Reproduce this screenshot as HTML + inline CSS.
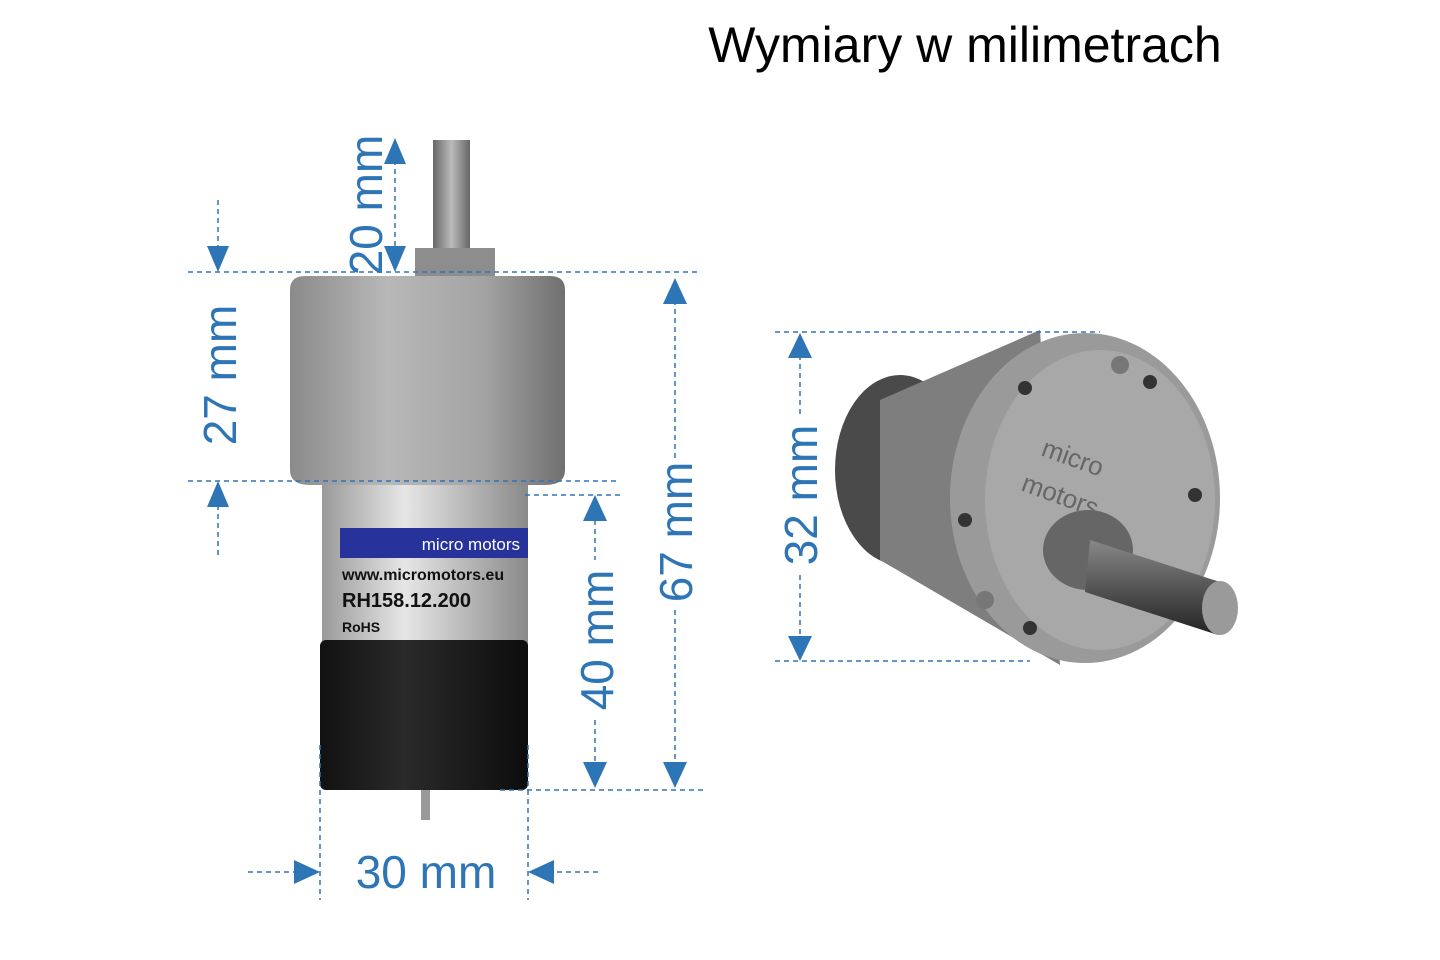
<!DOCTYPE html>
<html><head><meta charset="utf-8"><style>
html,body{margin:0;padding:0;background:#fff;}
svg{display:block}
text{font-family:"Liberation Sans",Arial,sans-serif;}
</style></head><body>
<svg width="1440" height="960" viewBox="0 0 1440 960" xmlns="http://www.w3.org/2000/svg">
<defs>
<linearGradient id="gb" x1="0" x2="1"><stop offset="0" stop-color="#8a8a8a"/><stop offset=".35" stop-color="#b8b8b8"/><stop offset=".7" stop-color="#a4a4a4"/><stop offset="1" stop-color="#707070"/></linearGradient>
<linearGradient id="mb" x1="0" x2="1"><stop offset="0" stop-color="#9a9a9a"/><stop offset=".4" stop-color="#e6e6e6"/><stop offset="1" stop-color="#8a8a8a"/></linearGradient>
<linearGradient id="bk" x1="0" x2="1"><stop offset="0" stop-color="#111"/><stop offset=".4" stop-color="#2a2a2a"/><stop offset="1" stop-color="#0d0d0d"/></linearGradient>
<linearGradient id="sh" x1="0" x2="1"><stop offset="0" stop-color="#666"/><stop offset=".5" stop-color="#bbb"/><stop offset="1" stop-color="#666"/></linearGradient>
<linearGradient id="sh2" x1="0" y1="0" x2="0" y2="1"><stop offset="0" stop-color="#888"/><stop offset=".5" stop-color="#555"/><stop offset="1" stop-color="#222"/></linearGradient>
</defs>
<text x="965" y="62" font-size="50" text-anchor="middle" fill="#000">Wymiary w milimetrach</text>

<!-- left motor -->
<rect x="433" y="140" width="37" height="112" fill="url(#sh)"/>
<rect x="415" y="248" width="80" height="28" fill="#8d8d8d"/>
<path d="M290 290 Q290 276 305 276 L550 276 Q565 276 565 290 L565 470 Q565 485 545 485 L310 485 Q290 485 290 470Z" fill="url(#gb)"/>
<rect x="322" y="485" width="206" height="160" fill="url(#mb)"/>
<rect x="340" y="528" width="188" height="30" fill="#27339a"/>
<text x="520" y="550" font-size="17" fill="#fff" text-anchor="end">micro motors</text>
<text x="342" y="580" font-size="16" font-weight="bold" fill="#111">www.micromotors.eu</text>
<text x="342" y="607" font-size="20" font-weight="bold" fill="#111">RH158.12.200</text>
<text x="342" y="632" font-size="14" font-weight="bold" fill="#111">RoHS</text>
<rect x="320" y="640" width="208" height="150" rx="6" fill="url(#bk)"/>
<rect x="421" y="790" width="9" height="30" fill="#999"/>

<!-- right motor -->
<ellipse cx="900" cy="470" rx="65" ry="95" fill="#4a4a4a"/>
<path d="M880 400 L1040 330 L1060 665 L880 560Z" fill="#7e7e7e"/>
<ellipse cx="1085" cy="498" rx="135" ry="165" fill="#9a9a9a"/>
<ellipse cx="1100" cy="500" rx="115" ry="150" fill="#a8a8a8"/>
<ellipse cx="1088" cy="550" rx="45" ry="40" fill="#666"/>
<path d="M1090 540 L1220 582 L1218 635 L1085 592Z" fill="url(#sh2)"/>
<ellipse cx="1220" cy="608" rx="18" ry="27" fill="#9a9a9a"/>
<text x="1040" y="455" font-size="26" fill="#666" transform="rotate(20 1040 455)">micro</text>
<text x="1020" y="490" font-size="26" fill="#666" transform="rotate(20 1020 490)">motors</text>
<g fill="#333"><circle cx="1025" cy="388" r="7"/><circle cx="1150" cy="382" r="7"/><circle cx="965" cy="520" r="7"/><circle cx="1195" cy="495" r="7"/><circle cx="1030" cy="628" r="7"/><circle cx="1120" cy="365" r="9" fill="#777"/><circle cx="985" cy="600" r="9" fill="#777"/></g>

<!-- dimension lines -->
<g stroke="#2e75b6" stroke-width="1.5" stroke-dasharray="5,4" fill="none">
<line x1="188" y1="272" x2="700" y2="272"/>
<line x1="188" y1="481" x2="620" y2="481"/>
<line x1="525" y1="495" x2="620" y2="495"/>
<line x1="500" y1="790" x2="705" y2="790"/>
<line x1="218" y1="200" x2="218" y2="250"/>
<line x1="218" y1="505" x2="218" y2="555"/>
<line x1="395" y1="160" x2="395" y2="250"/>
<line x1="675" y1="300" x2="675" y2="460"/>
<line x1="675" y1="610" x2="675" y2="765"/>
<line x1="595" y1="520" x2="595" y2="560"/>
<line x1="595" y1="720" x2="595" y2="765"/>
<line x1="320" y1="745" x2="320" y2="900"/>
<line x1="528" y1="745" x2="528" y2="900"/>
<line x1="248" y1="872" x2="300" y2="872"/>
<line x1="548" y1="872" x2="600" y2="872"/>
<line x1="775" y1="332" x2="1100" y2="332"/>
<line x1="775" y1="661" x2="1030" y2="661"/>
<line x1="800" y1="355" x2="800" y2="415"/>
<line x1="800" y1="575" x2="800" y2="640"/>
</g>
<g fill="#2e75b6">
<path d="M207 246 L229 246 L218 272Z"/>
<path d="M207 507 L229 507 L218 481Z"/>
<path d="M384 164 L406 164 L395 138Z"/>
<path d="M384 246 L406 246 L395 272Z"/>
<path d="M663 304 L687 304 L675 278Z"/>
<path d="M663 762 L687 762 L675 788Z"/>
<path d="M583 521 L607 521 L595 495Z"/>
<path d="M583 762 L607 762 L595 788Z"/>
<path d="M294 860 L294 884 L320 872Z"/>
<path d="M554 860 L554 884 L528 872Z"/>
<path d="M788 358 L812 358 L800 333Z"/>
<path d="M788 636 L812 636 L800 661Z"/>
</g>
<g fill="#2e75b6" font-size="46" text-anchor="middle">
<text transform="translate(236 375) rotate(-90)">27 mm</text>
<text transform="translate(382 205) rotate(-90)">20 mm</text>
<text transform="translate(692 532) rotate(-90)">67 mm</text>
<text transform="translate(613 640) rotate(-90)">40 mm</text>
<text transform="translate(817 495) rotate(-90)">32 mm</text>
<text x="426" y="888">30 mm</text>
</g>
</svg>
</body></html>
